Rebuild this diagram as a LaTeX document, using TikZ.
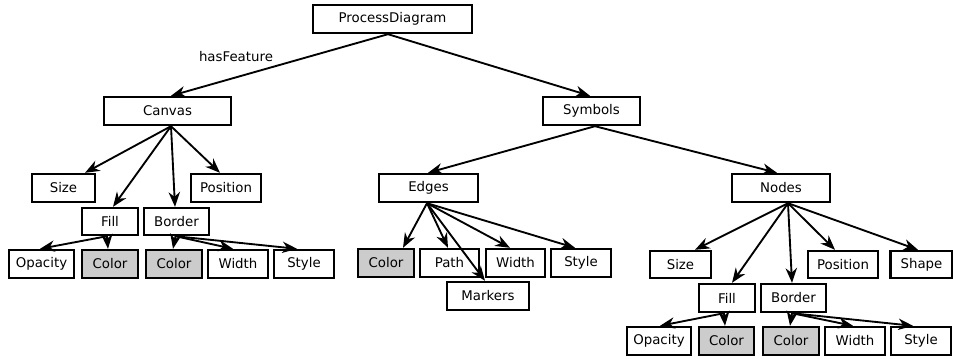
\documentclass[tikz,border=0pt]{standalone}
\usepackage{fontspec}
\setmainfont{DejaVu Sans}
\usetikzlibrary{arrows.meta,calc}
\definecolor{leafgray}{RGB}{204,204,204}
\tikzset{
  bx/.style 2 args={draw=black, line width=1.8pt, inner sep=0pt, fill=white,
    minimum width=#1*0.75pt, minimum height=#2*0.75pt,
    font=\fontsize{10}{12}\selectfont},
  gbx/.style={fill=leafgray},
  conn/.style={line width=1.4pt, -{Stealth[length=11pt,width=8.5pt,inset=3.5pt]}},
  lbl/.style={font=\fontsize{10}{12}\selectfont, inner sep=0pt},
}
\begin{document}
\begin{tikzpicture}[x=0.75pt,y=-0.75pt]
\useasboundingbox (0,0) rectangle (953,358);
% level 0/1
\node[bx={159}{28}] (pd) at (392.5,19) {ProcessDiagram};
\node[bx={127}{28}] (canvas) at (167.5,111) {Canvas};
\node[bx={97}{28}] (symbols) at (591.5,111) {Symbols};
% canvas subtree
\node[bx={63}{28}] (csize) at (63.5,188) {Size};
\node[bx={70}{28}] (cpos) at (226,188) {Position};
\node[bx={56}{27}] (cfill) at (110,221.5) {Fill};
\node[bx={65}{27}] (cborder) at (176.5,221.5) {Border};
\node[bx={65}{28}] (copac) at (41.5,264) {Opacity};
\node[bx={56}{28},gbx] (cfcol) at (110,264) {Color};
\node[bx={56}{28},gbx] (cbcol) at (174,264) {Color};
\node[bx={60}{28}] (cwidth) at (238,264) {Width};
\node[bx={60}{28}] (cstyle) at (304,264) {Style};
% edges subtree
\node[bx={99}{28}] (edges) at (428.5,188) {Edges};
\node[bx={56}{28},gbx] (ecol) at (386,263) {Color};
\node[bx={59}{28}] (epath) at (449.5,263) {Path};
\node[bx={59}{28}] (ewidth) at (515.5,263) {Width};
\node[bx={60}{28}] (estyle) at (581,263) {Style};
\node[bx={82}{28}] (emark) at (488,296) {Markers};
% nodes subtree
\node[bx={98}{28}] (nodes) at (781,188) {Nodes};
\node[bx={61}{27}] (nsize) at (680.5,264.5) {Size};
\node[bx={70}{27}] (npos) at (843,264.5) {Position};
\node[bx={62}{27}] (nshape) at (921.5,264.5) {Shape};
\node[bx={56}{28}] (nfill) at (727,298) {Fill};
\node[bx={65}{28}] (nborder) at (793.5,298) {Border};
\node[bx={64}{28}] (nopac) at (659,341) {Opacity};
\node[bx={55}{28},gbx] (nfcol) at (726.5,341) {Color};
\node[bx={56}{28},gbx] (nbcol) at (791,341) {Color};
\node[bx={60}{28}] (nwidth) at (855,341) {Width};
\node[bx={60}{28}] (nstyle) at (921,341) {Style};
% label
\node[lbl] (hasf) at (236,57) {hasFeature};
% connectors
\draw[conn] ($(pd.south)+(-4.5,0)$) -- ($(canvas.north)+(3.5,0)$);
\draw[conn] ($(pd.south)+(-4.5,0)$) -- ($(symbols.north)+(-1.5,0)$);
% canvas
\draw[conn] ($(canvas.south)+(3.5,0)$) -- ($(csize.north)+(21.5,0)$);
\draw[conn] ($(canvas.south)+(3.5,0)$) -- ($(cfill.north)+(3,0)$);
\draw[conn] ($(canvas.south)+(3.5,0)$) -- ($(cborder.north)+(-1.5,0)$);
\draw[conn] ($(canvas.south)+(3.5,0)$) -- ($(cpos.north)+(-6,0)$);
\draw[conn] ($(cfill.south)+(-3,0)$) -- ($(copac.north)+(-1.5,0)$);
\draw[conn] ($(cfill.south)+(-3,0)$) -- ($(cfcol.north)+(-2,0)$);
\draw[conn] ($(cborder.south)+(-1,0)$) -- ($(cbcol.north)+(-1,0)$);
\draw[conn] ($(cborder.south)+(-1,0)$) -- ($(cwidth.north)+(-5,0)$);
\draw[conn] ($(cborder.south)+(-1,0)$) -- ($(cstyle.north)+(-7,0)$);
% symbols
\draw[conn] ($(symbols.south)+(3.5,0)$) -- ($(edges.north)+(-0.5,0)$);
\draw[conn] ($(symbols.south)+(3.5,0)$) -- ($(nodes.north)+(-4,0)$);
% edges
\draw[conn] ($(edges.south)+(-1.5,0)$) -- ($(ecol.north)+(17,0)$);
\draw[conn] ($(edges.south)+(-1.5,0)$) -- ($(epath.north)+(-1.5,0)$);
\draw[conn] ($(edges.south)+(-1.5,0)$) -- ($(emark.north)+(-3,0)$);
\draw[conn] ($(edges.south)+(-1.5,0)$) -- ($(ewidth.north)+(-5.5,0)$);
\draw[conn] ($(edges.south)+(-1.5,0)$) -- ($(estyle.north)+(-6,0)$);
% nodes
\draw[conn] ($(nodes.south)+(7,0)$) -- ($(nsize.north)+(14.5,0)$);
\draw[conn] ($(nodes.south)+(7,0)$) -- ($(nfill.north)+(5,0)$);
\draw[conn] ($(nodes.south)+(7,0)$) -- ($(nborder.north)+(-1.5,0)$);
\draw[conn] ($(nodes.south)+(7,0)$) -- ($(npos.north)+(-8,0)$);
\draw[conn] ($(nodes.south)+(7,0)$) -- ($(nshape.north)+(-3.5,0)$);
\draw[conn] ($(nfill.south)+(-3,0)$) -- ($(nopac.north)+(1,0)$);
\draw[conn] ($(nfill.south)+(-3,0)$) -- ($(nfcol.north)+(-1.5,0)$);
\draw[conn] ($(nborder.south)+(-1.5,0)$) -- ($(nbcol.north)+(-1,0)$);
\draw[conn] ($(nborder.south)+(-1.5,0)$) -- ($(nwidth.north)+(-2,0)$);
\draw[conn] ($(nborder.south)+(-1.5,0)$) -- ($(nstyle.north)+(-8,0)$);
\end{tikzpicture}
\end{document}
